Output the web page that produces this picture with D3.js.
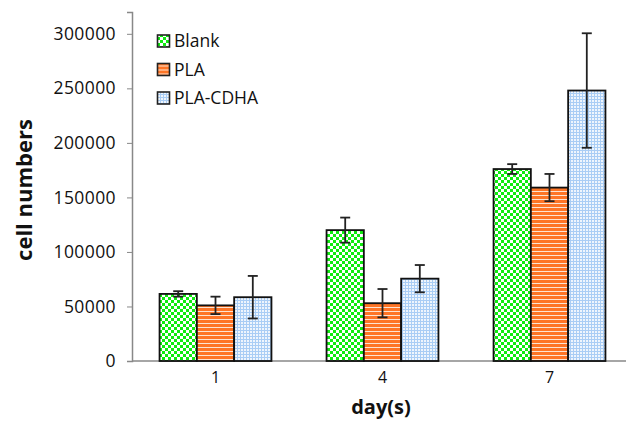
<!DOCTYPE html>
<html><head><meta charset="utf-8">
<script src="https://cdn.jsdelivr.net/npm/d3@7"></script>
<style>body{margin:0;background:#fff}svg{display:block}</style>
</head><body><svg id="c" width="626" height="423"></svg>
<script>
const days = ["1", "4", "7"];
const seriesNames = ["Blank", "PLA", "PLA-CDHA"];
const blank = [61500, 120000, 176000];
const blankErr = [2500, 11500, 4500];
const pla = [51000, 53000, 159000];
const plaErr = [8000, 13000, 12500];
const cdha = [58500, 75500, 248000];
const cdhaErr = [19500, 12500, 52500];
const yTicks = [0, 50000, 100000, 150000, 200000, 250000, 300000];

const values = [blank, pla, cdha];
const errs = [blankErr, plaErr, cdhaErr];
const svg = d3.select("#c");
const font = "Open Sans, Lato, sans-serif";

const defs = svg.append("defs");
const p1 = defs.append("pattern").attr("id","p0").attr("patternUnits","userSpaceOnUse").attr("width",6).attr("height",6);
p1.append("rect").attr("width",6).attr("height",6).attr("fill","#0fec0f");
p1.append("rect").attr("x",0).attr("y",0).attr("width",3).attr("height",3).attr("fill","#ffffff");
p1.append("rect").attr("x",3).attr("y",3).attr("width",3).attr("height",3).attr("fill","#ffffff");
const p2 = defs.append("pattern").attr("id","p1").attr("patternUnits","userSpaceOnUse").attr("width",4).attr("height",4);
p2.append("rect").attr("width",4).attr("height",4).attr("fill","#fe7526");
p2.append("rect").attr("y",3).attr("width",4).attr("height",1).attr("fill","#fde4d2");
const p3 = defs.append("pattern").attr("id","p2").attr("patternUnits","userSpaceOnUse").attr("width",3).attr("height",3);
p3.append("rect").attr("width",3).attr("height",3).attr("fill","#eef5fd");
p3.append("rect").attr("width",3).attr("height",1).attr("fill","#a9cdf5");
p3.append("rect").attr("width",1).attr("height",3).attr("fill","#a9cdf5");

const y = d3.scaleLinear().domain([0, 320000]).range([361, 12]);
const x = d3.scaleBand().domain(days).range([132, 633]).paddingInner(0.33).paddingOuter(0.165);
const xs = d3.scaleBand().domain(seriesNames).range([0, x.bandwidth()]);

const yAxis = d3.axisLeft(y).tickValues(yTicks).tickSize(5).tickFormat(d3.format("d"));
const gy = svg.append("g").attr("transform","translate(132,0)").call(yAxis);
gy.select(".domain").attr("stroke","#888").attr("stroke-width",1.5);
gy.selectAll(".tick line").attr("stroke","#888");
gy.selectAll(".tick text").attr("font-family",font).attr("font-size",17.5).attr("letter-spacing",0.4)
  .attr("fill","#111").attr("x",-16);

const xAxis = d3.axisBottom(x).tickSize(0).tickPadding(11);
const gx = svg.append("g").attr("transform","translate(0,361)").call(xAxis);
gx.select(".domain").attr("stroke","#888").attr("stroke-width",1.5).attr("d","M132,0H626");
gx.selectAll(".tick text").attr("font-family",font).attr("font-size",16).attr("fill","#111");

seriesNames.forEach((s, si) => {
  const g = svg.append("g");
  g.selectAll("rect").data(days).join("rect")
    .attr("x", d => x(d) + xs(s))
    .attr("y", (d,i) => y(values[si][i]))
    .attr("width", xs.bandwidth())
    .attr("height", (d,i) => y(0) - y(values[si][i]))
    .attr("fill", `url(#p${si})`)
    .attr("stroke", "#111").attr("stroke-width", 1.8);
});
seriesNames.forEach((s, si) => {
  days.forEach((d, i) => {
    const cx = x(d) + xs(s) + xs.bandwidth()/2;
    const v = values[si][i], e = errs[si][i];
    const g = svg.append("g").attr("stroke","#222").attr("stroke-width",1.8);
    g.append("line").attr("x1",cx).attr("x2",cx).attr("y1",y(v+e)).attr("y2",y(v-e));
    g.append("line").attr("x1",cx-5).attr("x2",cx+5).attr("y1",y(v+e)).attr("y2",y(v+e));
    g.append("line").attr("x1",cx-5).attr("x2",cx+5).attr("y1",y(v-e)).attr("y2",y(v-e));
  });
});

const lg = svg.append("g").attr("transform","translate(157,34)");
seriesNames.forEach((s, i) => {
  const row = lg.append("g").attr("transform", `translate(0,${i*28.5})`);
  row.append("rect").attr("x",0.5).attr("y",1).attr("width",12).attr("height",12)
    .attr("fill",`url(#p${i})`).attr("stroke","#222").attr("stroke-width",1.6);
  row.append("text").attr("x",17).attr("y",13).attr("font-family",font).attr("font-size",17.5).attr("fill","#111").text(s);
});

svg.append("text").attr("transform","translate(32,190) rotate(-90)").attr("text-anchor","middle")
  .attr("font-family",font).attr("font-size",22).attr("font-weight","bold").attr("fill","#111").text("cell numbers");
svg.append("text").attr("x",381).attr("y",414).attr("text-anchor","middle")
  .attr("font-family",font).attr("font-size",20).attr("font-weight","bold").attr("fill","#111").text("day(s)");
</script></body></html>
